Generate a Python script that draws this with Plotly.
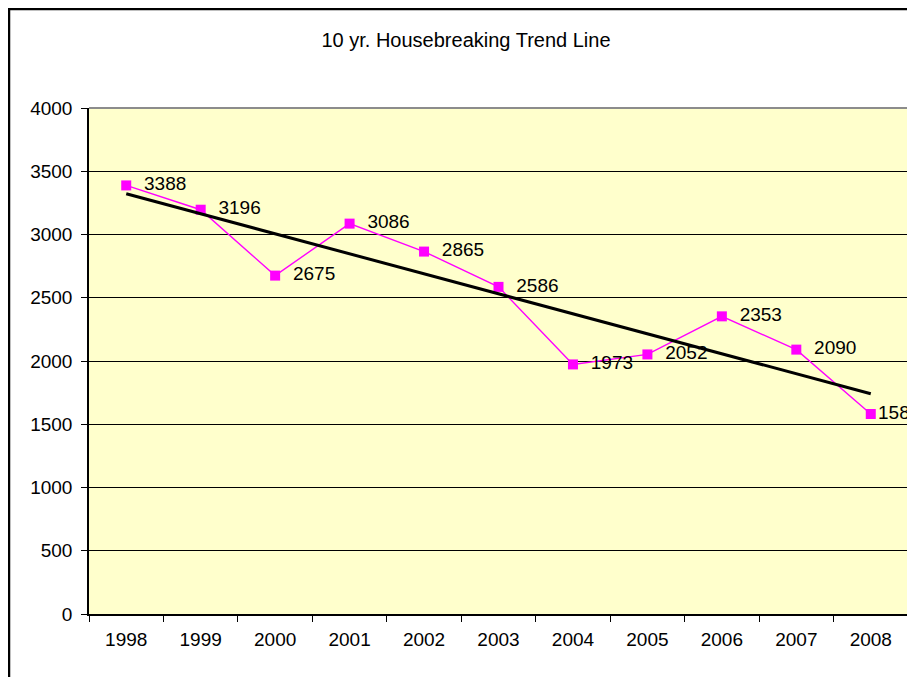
import numpy as np
import plotly.graph_objects as go

years = ["1998", "1999", "2000", "2001", "2002", "2003", "2004", "2005", "2006", "2007", "2008"]
housebreaking = [3388, 3196, 2675, 3086, 2865, 2586, 1973, 2052, 2353, 2090, 1581]
y_ticks = [0, 500, 1000, 1500, 2000, 2500, 3000, 3500, 4000]
title_text = "10 yr. Housebreaking Trend Line"

# Linear trendline (least squares over category index), as Excel does
idx = np.arange(1, len(years) + 1)
slope, intercept = np.polyfit(idx, housebreaking, 1)
trend = slope * idx + intercept

# labels: last one is pulled in closer to its marker (as in the reference)
labels = [("  " + str(v)) if i < len(housebreaking) - 1 else str(v)
          for i, v in enumerate(housebreaking)]

FONT = "Liberation Sans, Arial, sans-serif"
# page body has an 8px margin; figure sized to fit the 915x677 window exactly
W, H = 907, 669
L, R, T, B = 81, 7, 100, 63
pw, ph = W - L - R, H - T - B

fig = go.Figure()
fig.add_trace(go.Scatter(
    x=years, y=housebreaking, mode="lines+markers+text",
    line=dict(color="#FF00FF", width=1.4),
    marker=dict(symbol="square", size=10, color="#FF00FF"),
    text=labels,
    textposition="middle right",
    textfont=dict(family=FONT, size=19, color="black"),
    cliponaxis=False, showlegend=False, hoverinfo="x+y",
))
fig.add_trace(go.Scatter(
    x=years, y=trend, mode="lines",
    line=dict(color="black", width=3),
    showlegend=False, hoverinfo="skip",
))

# outer chart border
fig.add_shape(type="rect", xref="paper", yref="paper",
              x0=(1 - L) / pw, x1=(925 - L) / pw,
              y0=(H - B - 690) / ph, y1=(H - B - 1) / ph,
              line=dict(color="black", width=2.5), fillcolor="rgba(0,0,0,0)", layer="above")
# plot area top/right gray border
fig.add_shape(type="line", xref="paper", yref="paper", x0=0, x1=1, y0=1, y1=1,
              line=dict(color="#8c8c8c", width=2), layer="above")
fig.add_shape(type="line", xref="paper", yref="paper", x0=1, x1=1, y0=0, y1=1,
              line=dict(color="#8c8c8c", width=2), layer="above")

fig.update_layout(
    width=W, height=H,
    margin=dict(l=L, r=R, t=T, b=B),
    paper_bgcolor="white",
    plot_bgcolor="#FFFFCC",
    font=dict(family=FONT, size=19, color="black"),
    title=dict(text=title_text, x=458 / W, xanchor="center",
               y=1 - 32 / H, yanchor="middle",
               font=dict(family=FONT, size=20, color="black")),
    xaxis=dict(
        type="category", categoryorder="array", categoryarray=years,
        range=[-0.5, len(years) - 0.5],
        tickson="boundaries", ticks="outside", ticklen=6, tickcolor="black", tickwidth=1,
        showgrid=False, showline=True, linecolor="black", linewidth=1.5,
        tickfont=dict(family=FONT, size=19), ticklabelstandoff=7, zeroline=False,
    ),
    yaxis=dict(
        range=[0, 4000], tickvals=y_ticks, ticktext=[str(v) for v in y_ticks],
        ticks="outside", ticklen=6, tickcolor="black", tickwidth=1,
        showgrid=True, gridcolor="black", gridwidth=1,
        showline=True, linecolor="black", linewidth=1.5,
        tickfont=dict(family=FONT, size=19), ticklabelstandoff=5, zeroline=False,
    ),
)

fig.write_html("out.html")
